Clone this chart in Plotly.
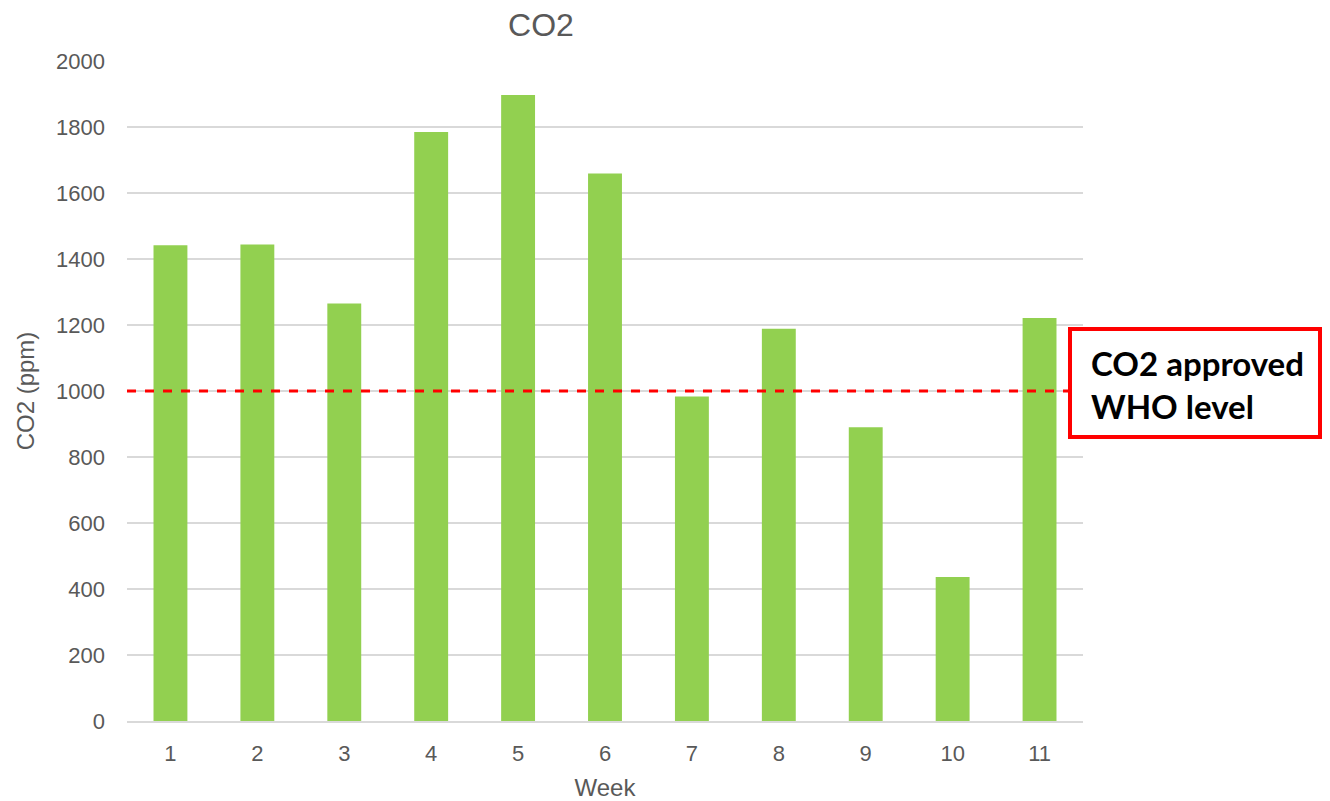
import plotly.graph_objects as go

weeks = [1, 2, 3, 4, 5, 6, 7, 8, 9, 10, 11]
co2_ppm = [1442, 1444, 1265, 1785, 1897, 1659, 983, 1189, 890, 436, 1221]
who_level = 1000
y_ticks = [0, 200, 400, 600, 800, 1000, 1200, 1400, 1600, 1800, 2000]

OFF = 8  # page offset of the figure inside the browser window
W, H = 1330 - OFF, 801 - OFF
L, R, T, B = 127 - OFF, 1083 - OFF, 61 - OFF, 721 - OFF


def px_x(p):
    return (p - OFF - L) / (R - L)


def px_y(p):
    return (B - (p - OFF)) / (B - T)


grey = "#595959"
font = "Liberation Sans"

fig = go.Figure()
fig.add_trace(go.Bar(x=weeks, y=co2_ppm, marker=dict(color="#92D050", line=dict(width=0)),
                     showlegend=False))

fig.add_shape(type="line", xref="paper", yref="y", x0=0, x1=1, y0=who_level, y1=who_level,
              line=dict(color="#FF0000", width=3, dash="dash"))

fig.add_shape(type="rect", xref="paper", yref="paper",
              x0=px_x(1070), x1=px_x(1320), y0=px_y(437), y1=px_y(329),
              line=dict(color="#FF0000", width=4), fillcolor="white", layer="above")
fig.add_annotation(xref="paper", yref="paper", x=px_x(1089), y=px_y(384),
                   xanchor="left", yanchor="middle", align="left", showarrow=False,
                   text="<b>CO2 approved<br>WHO level</b>",
                   font=dict(family="Lato", size=33, color="black"))

fig.update_layout(
    width=W, height=H,
    margin=dict(l=L, r=W - R, t=T, b=H - B),
    plot_bgcolor="white", paper_bgcolor="white",
    bargap=0.61,
    font=dict(family=font, color=grey),
    title=dict(text="CO2", x=px_x(541), xanchor="center", y=1 - (25 - OFF) / H, yanchor="middle",
               xref="paper", yref="container", font=dict(size=32, color=grey, family=font)),
    xaxis=dict(range=[0.5, 11.5], tickvals=weeks, ticktext=[str(w) for w in weeks],
               showgrid=False, showline=True, linecolor="#d9d9d9", linewidth=1.5,
               ticks="", tickfont=dict(size=22, color=grey), ticklabelstandoff=12,
               automargin=False,
               title=dict(text="Week", font=dict(size=24, color=grey), standoff=16)),
    yaxis=dict(range=[0, 2000], tickvals=y_ticks, showgrid=True, gridcolor="#d9d9d9",
               gridwidth=1.5, zeroline=False, ticks="", tickfont=dict(size=22, color=grey),
               ticklabelstandoff=21, automargin=False,
               title=dict(text="CO2 (ppm)", font=dict(size=24, color=grey), standoff=14)),
)

fig.write_html("out.html")
